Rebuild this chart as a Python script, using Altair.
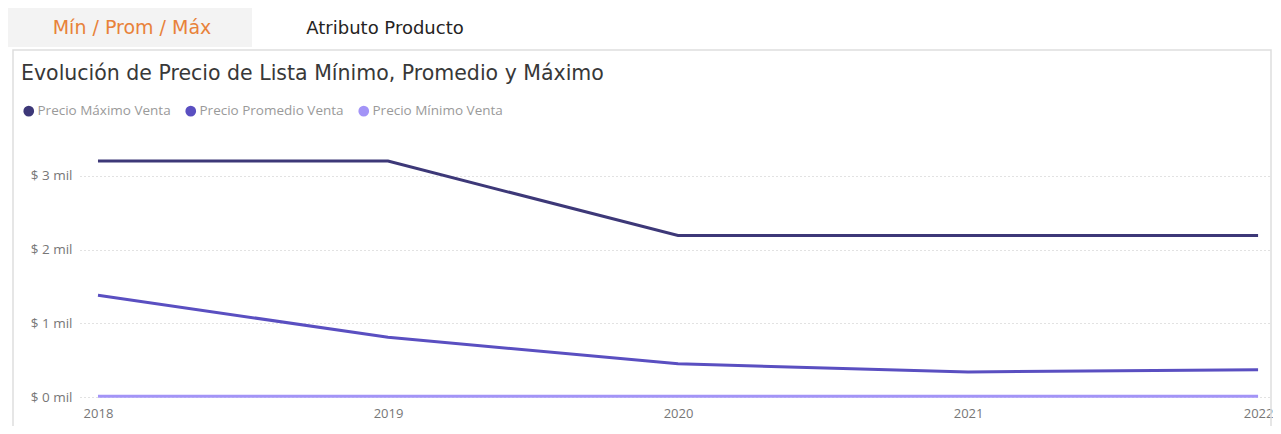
import altair as alt
import pandas as pd

years = [2018, 2019, 2020, 2021, 2022]
precio_max = [3200, 3200, 2190, 2190, 2190]
precio_prom = [1380, 810, 450, 340, 370]
precio_min = [10, 10, 10, 10, 10]

series_names = ["Precio Máximo Venta", "Precio Promedio Venta", "Precio Mínimo Venta"]
series_colors = ["#3d3878", "#5a4fc1", "#a394f7"]
y_ticks = [0, 1000, 2000, 3000]

tab_labels = ["Mín / Prom / Máx", "Atributo Producto"]
title_text = "Evolución de Precio de Lista Mínimo, Promedio y Máximo"

rows = []
for name, vals in zip(series_names, [precio_max, precio_prom, precio_min]):
    for yr, v in zip(years, vals):
        rows.append({"Año": yr, "Serie": name, "Valor": v})
df = pd.DataFrame(rows)

W, H = 1192, 258
FONT = "Open Sans"
TFONT = "DejaVu Sans"

x_enc = alt.X("Año:Q",
              scale=alt.Scale(domain=[2017.938, 2022.048], nice=False, zero=False),
              axis=alt.Axis(values=years, format="d", title=None, grid=False, ticks=False,
                            domain=False, labelColor="#777777", labelFontSize=13,
                            labelFont=FONT, labelPadding=10, labelBound=False,
                            labelOverlap=False, labelFlush=False))
y_enc = alt.Y("Valor:Q",
              scale=alt.Scale(domain=[0, 3500], nice=False),
              axis=alt.Axis(values=y_ticks, title=None, ticks=False, domain=False,
                            labelExpr="'$ ' + (datum.value / 1000) + ' mil'",
                            labelColor="#777777", labelFontSize=13.5, labelFont=FONT,
                            labelPadding=8, gridColor="#c4c4c4", gridDash=[1, 3],
                            gridWidth=1))
color_scale = alt.Scale(domain=series_names, range=series_colors)

legend_pts = alt.Chart(df).mark_point(filled=True, opacity=0, size=1).encode(
    x=x_enc, y=y_enc,
    color=alt.Color("Serie:N", scale=color_scale,
                    legend=alt.Legend(orient="none", legendX=-58, legendY=-35,
                                      direction="horizontal", title=None,
                                      symbolType="circle", symbolSize=115,
                                      symbolOpacity=1, symbolStrokeWidth=0,
                                      labelFontSize=13.5, labelFont=FONT,
                                      labelColor="#9a9a9a", columnPadding=13,
                                      labelOffset=2)),
)

lines = alt.Chart(df).mark_line(strokeWidth=3).encode(
    x=x_enc, y=y_enc,
    color=alt.Color("Serie:N", scale=color_scale, legend=None),
    order=alt.Order("Año:Q"),
)

one = alt.Data(values=[{}])

tab_box = alt.Chart(one).mark_rect(color="#f3f3f3").encode(
    x=alt.value(-80), x2=alt.value(172), y=alt.value(-134), y2=alt.value(-92))

panel = alt.Chart(one).mark_rect(filled=False, stroke="#dedede", strokeWidth=1.5).encode(
    x=alt.value(-67), x2=alt.value(1191), y=alt.value(-89), y2=alt.value(320))

tab1 = alt.Chart(one).mark_text(text=tab_labels[0], font=TFONT, fontSize=19,
                                 color="#e8823a", align="center",
                                 baseline="middle").encode(
    x=alt.value(52), y=alt.value(-111))
tab2 = alt.Chart(one).mark_text(text=tab_labels[1], font=TFONT, fontSize=18,
                                 color="#252423", align="center",
                                 baseline="middle").encode(
    x=alt.value(305), y=alt.value(-110))

title = alt.Chart(one).mark_text(text=title_text, font=TFONT, fontSize=20.5,
                                  color="#383838", align="left",
                                  baseline="alphabetic").encode(
    x=alt.value(-59), y=alt.value(-59))

chart = alt.layer(panel, tab_box, tab1, tab2, title, legend_pts, lines).properties(
    width=W, height=H,
    autosize=alt.AutoSizeParams(type="none"),
    padding={"left": 72, "top": 131, "right": 1, "bottom": 29},
    background="white",
).configure_view(stroke=None)

chart.save("out.html", embed_options={"renderer": "svg", "actions": False})
